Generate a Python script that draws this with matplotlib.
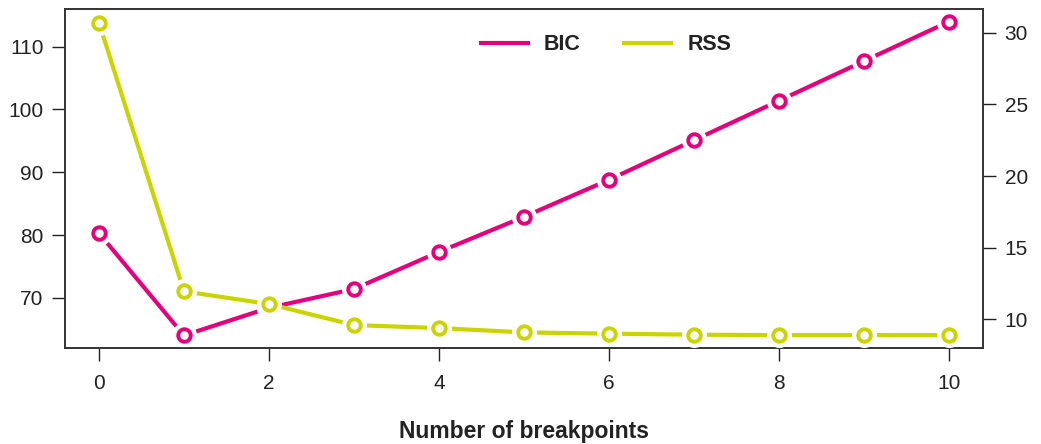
import matplotlib
matplotlib.use("Agg")
import matplotlib.pyplot as plt
from matplotlib.lines import Line2D

# data
breakpoints = [0, 1, 2, 3, 4, 5, 6, 7, 8, 9, 10]
bic = [80.3, 64.0, 68.4, 71.4, 77.3, 82.9, 88.8, 95.1, 101.4, 107.7, 114.0]
rss = [30.7, 11.95, 11.07, 9.6, 9.39, 9.09, 9.0, 8.93, 8.9, 8.9, 8.9]

bic_color = '#E5007D'
rss_color = '#C9D400'

plt.rcParams['font.family'] = ['Liberation Sans', 'DejaVu Sans']

fig = plt.figure(figsize=(10.41, 4.44), dpi=100)
ax = fig.add_axes([0.0624, 0.2162, 0.8819, 0.7635])
ax2 = ax.twinx()

def draw(axis, x, y, color):
    # R style type="b": line with gaps around the open circles
    axis.plot(x, y, color=color, lw=3.0, solid_capstyle='butt', zorder=2)
    axis.plot(x, y, ls='none', marker='o', ms=18, mfc='white', mec='none', zorder=3)
    axis.plot(x, y, ls='none', marker='o', ms=9, mfc='white', mec=color, mew=2.8, zorder=4)

draw(ax, breakpoints, bic, bic_color)
draw(ax2, breakpoints, rss, rss_color)

ax.set_xlim(-0.4, 10.4)
ax.set_ylim(62, 116)
ax2.set_ylim(8.0, 31.65)

ax.set_xticks([0, 2, 4, 6, 8, 10])
ax.set_yticks([70, 80, 90, 100, 110])
ax2.set_yticks([10, 15, 20, 25, 30])

for a in (ax, ax2):
    a.tick_params(length=9.5, width=1.0, labelsize=15, pad=6, colors='#222222')
    for s in a.spines.values():
        s.set_linewidth(1.2)
        s.set_color('#333333')
ax.tick_params(axis='x', pad=9)

ax.set_xlabel('Number of breakpoints', fontsize=16.5, fontweight='bold', labelpad=20, color='#222222')

handles = [Line2D([], [], color=bic_color, lw=3.0), Line2D([], [], color=rss_color, lw=3.0)]
leg = fig.legend(handles, ['BIC', 'RSS'], loc='center', bbox_to_anchor=(606 / 1041, 1 - 45 / 444),
                 ncol=2, frameon=False, handlelength=2.2, handletextpad=0.75, columnspacing=2.0,
                 prop={'weight': 'bold', 'size': 15.5})
for t in leg.get_texts():
    t.set_color('#222222')

fig.savefig('out.png', dpi=100)
